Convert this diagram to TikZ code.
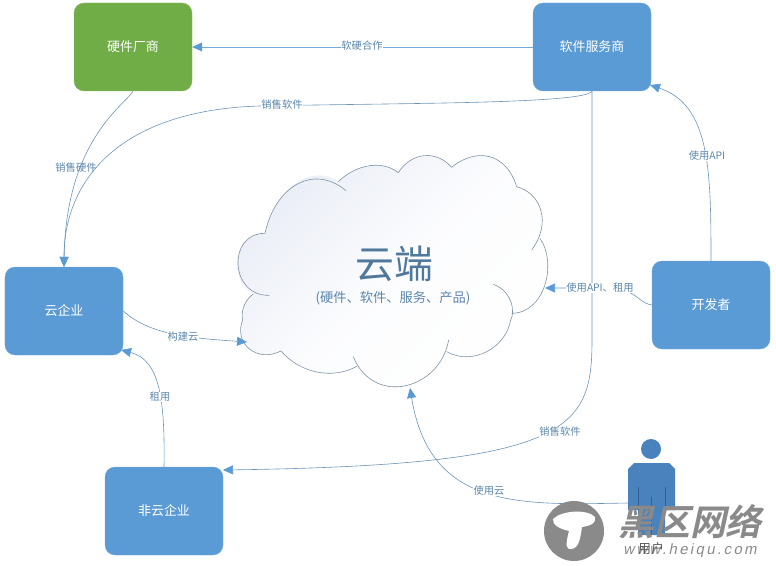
\documentclass[tikz,border=0pt]{standalone}
\usepackage{fontspec}
\setmainfont{Noto Sans CJK SC}
\newfontfamily\wmcn[FakeSlant=0.22]{Noto Sans CJK SC Bold}
\newfontfamily\wmen[FakeSlant=0.2,LetterSpace=16]{Liberation Sans}
\usetikzlibrary{arrows.meta,calc}
\definecolor{bl}{HTML}{5B9BD5}
\definecolor{gr}{HTML}{70AD47}
\definecolor{lin}{HTML}{6A94B8}
\definecolor{txt}{HTML}{5A86AC}
\definecolor{cld}{HTML}{7F93A6}
\definecolor{wm}{HTML}{8A8A8A}
\definecolor{prs}{HTML}{4A82BD}
\definecolor{cldf}{HTML}{E9EDF6}
\tikzset{
 box/.style={draw=#1!85!white,fill=#1,rounded corners=10bp,minimum width=118bp,minimum height=88bp,text=white,font=\fontsize{13}{15}\selectfont,inner sep=0pt},
 conn/.style={draw=lin,line width=0.6pt,-{Triangle[length=10bp,width=9bp,fill=bl,color=bl]}},
 lab/.style={text=txt,font=\fontsize{10.3}{12}\selectfont,inner sep=0.5pt,fill=white},
 labn/.style={lab,fill=none},
 cl/.style={draw=cld,line width=0.6pt}
}
\begin{document}
\begin{tikzpicture}[x=1bp,y=-1bp]
\useasboundingbox (0,0) rectangle (776,566);
% cloud
\begin{scope}[shift={(220,150)},x=0.3333bp,y=-0.3333bp]
\path[left color=cldf,right color=white,middle color=white!85!cldf,shading angle=45]
 (135,250) .. controls (165,110) and (280,40) .. (355,95)
 .. controls (400,50) and (480,25) .. (535,68)
 .. controls (575,5) and (650,0) .. (695,52)
 .. controls (770,-10) and (860,10) .. (890,110)
 .. controls (965,130) and (985,210) .. (960,265)
 .. controls (1012,340) and (975,490) .. (875,490)
 .. controls (860,590) and (760,650) .. (680,605)
 .. controls (645,720) and (480,760) .. (412,648)
 .. controls (340,690) and (240,670) .. (183,603)
 .. controls (110,640) and (40,580) .. (68,510)
 .. controls (60,480) and (80,445) .. (100,432)
 .. controls (30,400) and (30,250) .. (135,250) -- cycle;
\draw[cl] (135,250) .. controls (165,110) and (280,40) .. (378,122);
\draw[cl] (355,95) .. controls (400,50) and (480,25) .. (535,68);
\draw[cl] (535,68) .. controls (575,5) and (650,0) .. (695,52);
\draw[cl] (695,52) .. controls (770,-10) and (860,10) .. (890,110);
\draw[cl] (890,110) .. controls (965,130) and (995,220) .. (935,300);
\draw[cl] (960,265) .. controls (1012,340) and (975,490) .. (875,490);
\draw[cl] (820,403) .. controls (880,425) and (885,490) .. (872,510) .. controls (860,590) and (760,650) .. (680,605);
\draw[cl] (686,570) .. controls (660,720) and (460,770) .. (400,620);
\draw[cl] (412,648) .. controls (340,690) and (240,670) .. (183,603);
\draw[cl] (183,603) .. controls (110,640) and (40,580) .. (68,510) .. controls (60,480) and (80,445) .. (100,432);
\draw[cl] (148,436) .. controls (30,440) and (20,250) .. (135,250);
\end{scope}
\node[text=txt!90!black,font=\fontsize{39}{42}\selectfont,inner sep=0pt] (t1) at (394,264) {云端};
\node[text=txt,font=\fontsize{13.3}{15}\selectfont,inner sep=0pt] (t2) at (393,298) {(硬件、软件、服务、产品)};
% boxes
\node[box=gr] (hw) at (133,47) {硬件厂商};
\node[box=bl] (sw) at (592,47) {软件服务商};
\node[box=bl] (cc) at (64,311) {云企业};
\node[box=bl] (dev) at (711,305) {开发者};
\node[box=bl] (nc) at (164,511) {非云企业};
% person
\fill[prs] (651,449) circle (10);
\path[fill=prs] (634,463) -- (669,463) -- (675,469) -- (675,510) -- (665,510) -- (665,535) -- (638,535) -- (638,510) -- (628,510) -- (628,469) -- cycle;
\draw[prs!75!black,line width=0.4pt] (638,487) -- (638,510) (665,487) -- (665,510) (651,497) -- (651,535);
\coordinate (usr) at (628,503);
% connector ends
\coordinate (ccArr) at (121,350);
\coordinate (devIn) at (650,85);
\coordinate (clR) at (545,288);
\coordinate (clL) at (247,342);
\coordinate (clB) at (410,388);
\coordinate (ncR) at (223,470);
\draw[conn,draw=bl!85!white,line width=0.9pt] (sw.west) -- (hw.east);
\draw[conn] (sw.south) .. controls (585,104) and (400,103) .. (260,106) .. controls (120,110) and (64,180) .. (cc.north);
\draw[conn] (hw.south) .. controls (125,105) and (66,140) .. (cc.north);
\draw[conn] (cc.east) .. controls (150,335) and (190,338) .. (clL);
\draw[conn] (nc.north) .. controls (165,400) and (160,360) .. (ccArr);
\draw[conn] (dev.north) .. controls (711,170) and (710,105) .. (devIn);
\draw[conn] (dev.west) .. controls (635,302) and (640,288) .. (600,288) -- (clR);
\draw[conn] (sw.south) -- (592,340) .. controls (592,430) and (570,465) .. (ncR);
\draw[conn] (usr) .. controls (520,505) and (430,510) .. (clB);
% labels
\node[lab] (l1) at (362,46) {软硬合作};
\node[lab] (l2) at (282,105) {销售软件};
\node[labn] (l3) at (76,168) {销售硬件};
\node[lab] (l4) at (183,337) {构建云};
\node[lab] (l5) at (160,397) {租用};
\node[lab] (l6) at (707,156) {使用API};
\node[lab] (l7) at (600,288) {使用API、租用};
\node[lab] (l8) at (560,432) {销售软件};
\node[lab] (l9) at (489,491) {使用云};
% watermark
\fill[wm] (574,531) circle (30);
\fill[white] (553,519) .. controls (562,510) and (588,509) .. (595,517) .. controls (597,523) and (590,526) .. (582,527) .. controls (580,540) and (579,547) .. (572,549) .. controls (566,550) and (565,546) .. (569,531) .. controls (560,529) and (552,525) .. (553,519) -- cycle;
\node[text=wm,font=\wmcn\fontsize{36}{38}\selectfont,inner sep=0pt] (w1) at (690,522) {黑区网络};
\node[text=wm,font=\wmen\fontsize{15}{16}\selectfont,inner sep=0pt] (w2) at (690,551) {www.heiqu.com};
\node[text=black!65,font=\fontsize{13}{15}\selectfont,inner sep=0pt] (ul) at (651,549) {用户};
\end{tikzpicture}
\end{document}
